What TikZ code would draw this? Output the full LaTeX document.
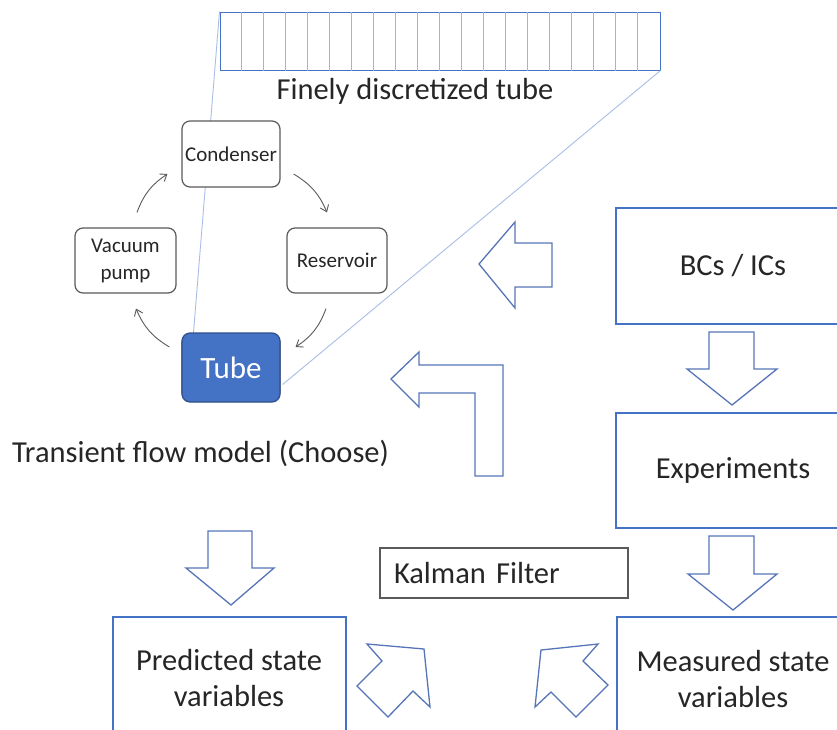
\documentclass[tikz,border=0pt]{standalone}
\usepackage{fontspec}
\setmainfont{Carlito}
\usetikzlibrary{arrows.meta}
\definecolor{boxblue}{HTML}{4472C4}
\definecolor{arrowblue}{HTML}{5575B8}
\definecolor{cellblue}{HTML}{9DB4E0}
\definecolor{linkblue}{HTML}{A9BEE6}
\definecolor{cycgray}{HTML}{5A5A5A}
\definecolor{txt}{HTML}{262626}
\definecolor{tubeedge}{HTML}{2F4F8A}
\begin{document}
\begin{tikzpicture}[x=1pt,y=-1pt,
  big/.style={font=\fontsize{30.5}{36}\selectfont, text=txt},
  bluebox/.style={draw=boxblue, line width=1.3pt, fill=white, inner sep=0pt},
  cycbox/.style={draw=cycgray, rounded corners=8pt, line width=1.2pt, fill=white,
    inner sep=0pt, text=txt, font=\fontsize{21}{27}\selectfont, align=center},
  cycarrow/.style={draw=cycgray, line width=0.9pt, -{Straight Barb[length=6pt,width=9pt]}, bend left=18},
  fatarrow/.style={draw=arrowblue, line width=1.3pt, fill=white, line join=miter},
  cell/.style={draw=cellblue, line width=0.8pt},
  link/.style={draw=linkblue, line width=0.9pt}]
\useasboundingbox (0,0) rectangle (837,729);
\clip (0,0) rectangle (837,729);
\fill[white] (0,0) rectangle (837,729);

% discretized tube strip
\node[draw=boxblue, line width=1pt, minimum width=440, minimum height=58, inner sep=0pt] (fine) at (440,41) {};
\foreach \i in {1,...,19}
  \draw[cell] ([xshift=\i*22pt]fine.north west) -- ([xshift=\i*22pt]fine.south west);
\node[big] (finelbl) at (415,91) {Finely discretized tube};

% cycle components
\node[cycbox, minimum width=98, minimum height=66] (tube) at (231,367.5) {};
\draw[link] (fine.north west) -- ([xshift=12pt]tube.north west);
\draw[link] (fine.south east) -- ([shift={(2,17)}]tube.east);

\node[cycbox, minimum width=98, minimum height=66] (cond) at (231,154) {Condenser};
\node[cycbox, minimum width=101, minimum height=65] (vac) at (125.5,260.5) {Vacuum\\pump};
\node[cycbox, minimum width=100, minimum height=65] (res) at (337,260.5) {Reservoir};
\node[cycbox, fill=boxblue, draw=tubeedge, text=white, font=\fontsize{31}{34}\selectfont,
      minimum width=98, minimum height=69] (tube) at (231,367.5) {Tube};

\draw[cycarrow] ([shift={(11.5,-15)}]vac.north) to ([shift={(-14,20)}]cond.west);
\draw[cycarrow] ([shift={(13,20)}]cond.east) to ([shift={(-10,-15)}]res.north);
\draw[cycarrow] ([shift={(-11,15)}]res.south) to ([shift={(15,-20.5)}]tube.east);
\draw[cycarrow] ([shift={(-12,-20.5)}]tube.west) to ([shift={(10.5,15)}]vac.south);

\node[big] (model) at (200.5,453) {Transient flow model (Choose)};

% right-hand column
\node[bluebox, big, minimum width=234, minimum height=116] (bcs) at (733,266) {BCs / ICs};
\node[bluebox, big, minimum width=234, minimum height=115] (exp) at (733,470.5) {Experiments};
\node[bluebox, minimum width=234, minimum height=170] (measbox) at (734,702) {};
\node[big, align=center] (meas) at (733,679) {Measured state\\variables};

% left-hand result box
\node[bluebox, minimum width=233, minimum height=170] (predbox) at (229.5,702) {};
\node[big, align=center] (pred) at (229,678) {Predicted state\\variables};

% Kalman filter label
\node[draw=cycgray, line width=1.1pt, fill=white, minimum height=50, text width=220,
      inner xsep=14pt, align=left, big] (kal) at (504,573) {Kalman Filter};

% block arrows
\draw[fatarrow] (479,264) -- (515,222) -- (515,243) -- (552,243) -- (552,287)
  -- (515,287) -- (515,308) -- cycle;
\draw[fatarrow] (391,379) -- (419,352) -- (419,365) -- (503,365) -- (503,476)
  -- (475,476) -- (475,393) -- (419,393) -- (419,407) -- cycle;
\draw[fatarrow] (709,332) -- (754,332) -- (754,369) -- (777,369) -- (732,405)
  -- (687,369) -- (709,369) -- cycle;
\draw[fatarrow] (208,531) -- (252,531) -- (252,568) -- (274,568) -- (231,605)
  -- (186,568) -- (208,568) -- cycle;
\draw[fatarrow] (709,536) -- (754,536) -- (754,574) -- (777,574) -- (733,610)
  -- (688,574) -- (709,574) -- cycle;
\draw[fatarrow] (367,644) -- (424,649) -- (430,707) -- (413,691) -- (388,717)
  -- (357,686) -- (382,661) -- cycle;
\draw[fatarrow] (598,644) -- (541,650) -- (535,707) -- (551,692) -- (576,717)
  -- (608,685) -- (583,661) -- cycle;
\end{tikzpicture}
\end{document}
